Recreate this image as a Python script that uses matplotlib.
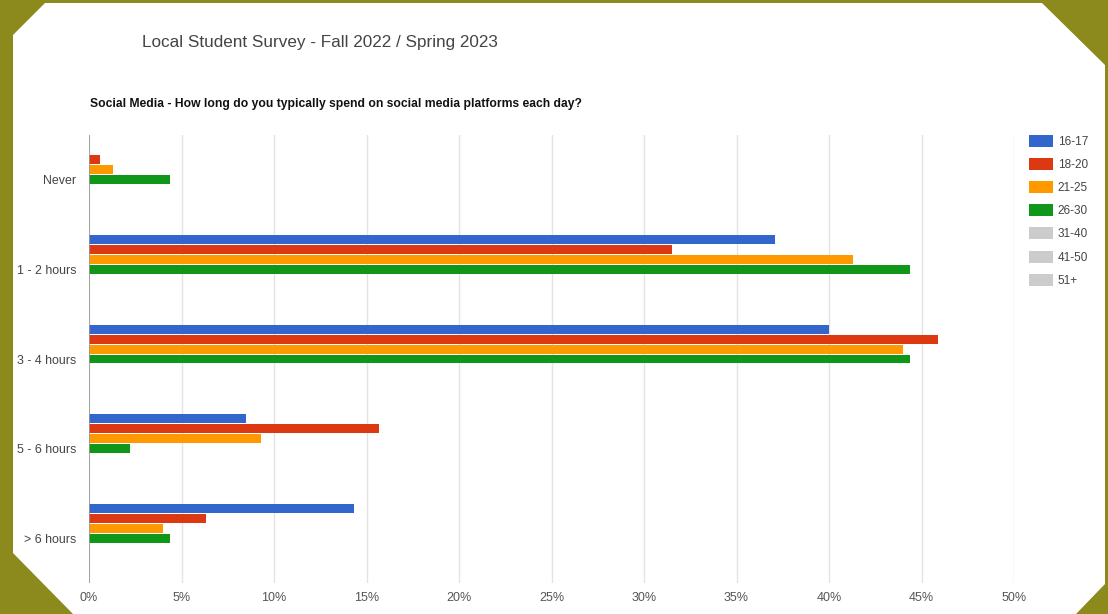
import matplotlib
matplotlib.use("Agg")
import matplotlib.pyplot as plt
from matplotlib.patches import Polygon, Patch

# ------------------------------------------------------------------ data ----
categories = ["Never", "1 - 2 hours", "3 - 4 hours", "5 - 6 hours", "> 6 hours"]
age_groups = ["16-17", "18-20", "21-25", "26-30", "31-40", "41-50", "51+"]

# percent of respondents per age group (31-40, 41-50, 51+ have no answers)
pct_16_17 = [0.0, 37.1, 40.0, 8.5, 14.3]
pct_18_20 = [0.6, 31.5, 45.9, 15.7, 6.3]
pct_21_25 = [1.3, 41.3, 44.0, 9.3, 4.0]
pct_26_30 = [4.4, 44.4, 44.4, 2.2, 4.4]
pct_31_40 = [0.0, 0.0, 0.0, 0.0, 0.0]
pct_41_50 = [0.0, 0.0, 0.0, 0.0, 0.0]
pct_51_up = [0.0, 0.0, 0.0, 0.0, 0.0]

x_ticks = [0, 5, 10, 15, 20, 25, 30, 35, 40, 45, 50]

SERIES = [pct_16_17, pct_18_20, pct_21_25, pct_26_30,
          pct_31_40, pct_41_50, pct_51_up]
COLORS = ["#3366cc", "#dc3912", "#ff9900", "#109618",
          "#cccccc", "#cccccc", "#cccccc"]

W, H = 1108, 614
FONT = "Liberation Sans"

fig = plt.figure(figsize=(W / 100, H / 100), dpi=100)
fig.patch.set_facecolor("#8c8a1c")

# white card with clipped corners
bg = fig.add_axes([0, 0, 1, 1], zorder=-1)
bg.set_xlim(0, W)
bg.set_ylim(H, 0)
bg.axis("off")
card = [(45, 3), (1042, 3), (1105, 65), (1105, 584), (1076, 614),
        (73, 614), (13, 553), (13, 35)]
bg.add_patch(Polygon(card, closed=True, facecolor="white", edgecolor="none"))


def px(x0, y0, x1, y1):
    """pixel box (top-left origin) -> figure fraction rect"""
    return [x0 / W, 1 - y1 / H, (x1 - x0) / W, (y1 - y0) / H]


ax = fig.add_axes(px(89, 135, 1014, 583))
ax.set_facecolor("none")

slot = 0.111
n = len(SERIES)
for j, (vals, col, lab) in enumerate(zip(SERIES, COLORS, age_groups)):
    ys = [i + (j - (n - 1) / 2) * slot for i in range(len(categories))]
    ax.barh(ys, vals, height=slot * 0.9, color=col, label=lab, zorder=3)

ax.set_xlim(0, 50)
ax.set_ylim(len(categories) - 0.5, -0.5)
ax.set_yticks(range(len(categories)))
ax.set_yticklabels(categories, fontsize=8.9, color="#444444", family=FONT)
ax.set_xticks(x_ticks)
ax.set_xticklabels([f"{t}%" for t in x_ticks], fontsize=9,
                   color="#555555", family=FONT)
ax.tick_params(length=0)
ax.tick_params(axis="x", pad=6.5)
ax.tick_params(axis="y", pad=9)
ax.grid(axis="x", color="#e3e3e3", linewidth=1, zorder=0)
for s in ax.spines.values():
    s.set_visible(False)
ax.axvline(0, color="#999999", linewidth=1.2, zorder=4)

fig.text(142 / W, 1 - 42 / H, "Local Student Survey - Fall 2022 / Spring 2023",
         fontsize=12.3, color="#444444", family=FONT, va="center", ha="left")
fig.text(90 / W, 1 - 104 / H,
         "Social Media - How long do you typically spend on social media "
         "platforms each day?",
         fontsize=8.75, fontweight="bold", color="#111111", family=FONT,
         va="center", ha="left")

handles = [Patch(facecolor=c, edgecolor="none") for c in COLORS]
fig.legend(handles, age_groups, loc="upper left",
           bbox_to_anchor=(1018 / W, 1 - 124 / H), frameon=False,
           prop={"family": FONT, "size": 8.5}, labelcolor="#444444",
           handlelength=2.05, handleheight=1.2, handletextpad=0.4,
           labelspacing=0.86)

fig.savefig("out.png", dpi=100)
